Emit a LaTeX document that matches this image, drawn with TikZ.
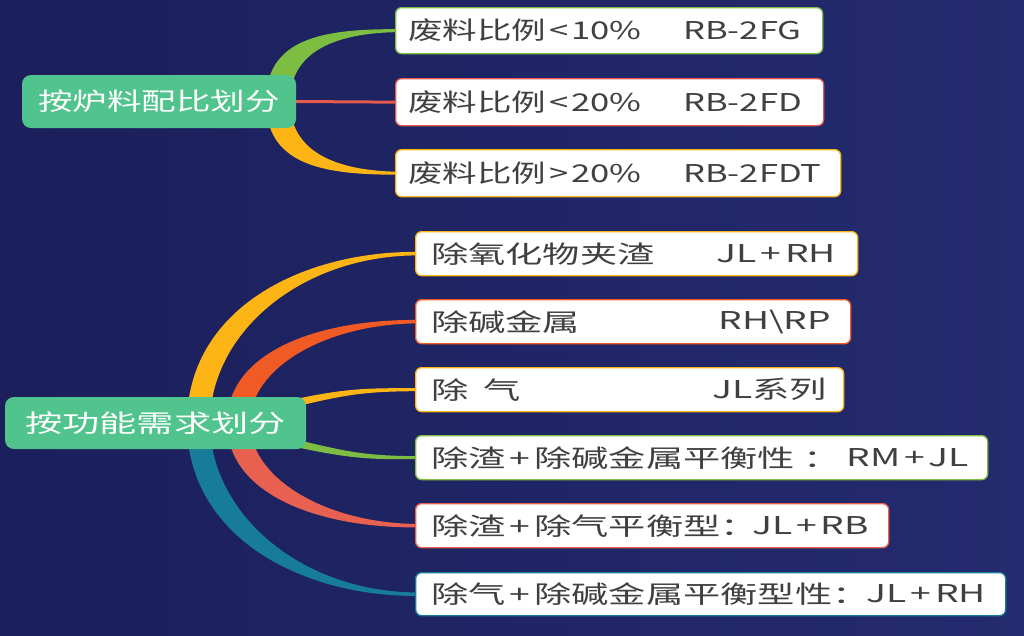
\documentclass[tikz,border=0pt]{standalone}
\usepackage{fontspec}
\newfontfamily\fa[FakeStretch=1.41]{Noto Sans CJK SC}
\newfontfamily\fb[FakeStretch=1.52]{Noto Sans CJK SC}
\usetikzlibrary{calc}
\pgfdeclarelayer{back}
\pgfdeclarelayer{conn}
\pgfsetlayers{back,conn,main}
\definecolor{bgl}{HTML}{1B1F5B}
\definecolor{bgr}{HTML}{242B6E}
\definecolor{rootg}{HTML}{50C48C}
\definecolor{cg}{HTML}{7DBE42}
\definecolor{rd}{HTML}{E55A4E}
\definecolor{rd2}{HTML}{E8604F}
\definecolor{yl}{HTML}{FDB515}
\definecolor{og}{HTML}{F05A24}
\definecolor{tl}{HTML}{177C97}
\definecolor{txt}{HTML}{404040}
\newcommand\pls{\hspace{4pt}+\hspace{4pt}}
\newcommand\lts{\hspace{3pt}<\hspace{3pt}}
\newcommand\gts{\hspace{3pt}>\hspace{3pt}}
\tikzset{
  root/.style={fill=rootg, rounded corners=9pt, text=white, inner sep=0pt},
  box/.style={fill=white, draw, line width=1.3pt, rounded corners=6pt, inner sep=0pt, anchor=north west},
  lbla/.style={text=txt, inner sep=0pt, font=\fa\fontsize{24.5}{28}\selectfont},
  lblb/.style={text=txt, inner sep=0pt, font=\fb\fontsize{24.5}{28}\selectfont},
}
\begin{document}
\begin{tikzpicture}[x=1pt,y=-1pt]
\useasboundingbox (0,0) rectangle (1024,635);
\begin{pgfonlayer}{back}
\shade[left color=bgl, right color=bgr] (0,0) rectangle (1024,635);
\end{pgfonlayer}

% roots
\node[root, font=\fa\fontsize{24.5}{28}\selectfont, minimum width=274pt, minimum height=53pt] (r1) at (159,101.5) {按炉料配比划分};
\node[root, font=\fb\fontsize{24.5}{28}\selectfont, minimum width=301pt, minimum height=52pt] (r2) at (155.5,423) {按功能需求划分};

% boxes (group 1)
\node[box, draw=cg, minimum width=427pt, minimum height=46pt] (c1) at (395,7) {};
\node[box, draw=rd, minimum width=428pt, minimum height=47pt] (c2) at (395,78) {};
\node[box, draw=yl, minimum width=445pt, minimum height=47pt] (c3) at (395,149) {};
% boxes (group 2)
\node[box, draw=yl, minimum width=442pt, minimum height=44pt] (d1) at (415,231) {};
\node[box, draw=og, minimum width=435pt, minimum height=44pt] (d2) at (415,299) {};
\node[box, draw=yl, minimum width=428pt, minimum height=44pt] (d3) at (415,367) {};
\node[box, draw=cg, minimum width=572pt, minimum height=44pt] (d4) at (415,435) {};
\node[box, draw=rd2, minimum width=473pt, minimum height=44pt] (d5) at (415,503) {};
\node[box, draw=tl, minimum width=590pt, minimum height=43pt] (d6) at (415,572) {};

\begin{pgfonlayer}{conn}
% connectors group 1
\fill[cg] ($(r1.center)+(107,0)$) .. controls ($(r1.center)+(107,-62)$) and ($(c1.west)+(-75,-1.5)$) .. ($(c1.west)+(0,-1.5)$)
  -- ($(c1.west)+(0,1.5)$) .. controls ($(c1.west)+(-60,3)$) and ($(r1.center)+(131,-50)$) .. ($(r1.center)+(131,0)$) -- cycle;
\fill[yl] ($(r1.center)+(107,0)$) .. controls ($(r1.center)+(107,62)$) and ($(c3.west)+(-75,1.5)$) .. ($(c3.west)+(0,1.5)$)
  -- ($(c3.west)+(0,-1.5)$) .. controls ($(c3.west)+(-60,-3)$) and ($(r1.center)+(131,50)$) .. ($(r1.center)+(131,0)$) -- cycle;
\draw[rd, line width=3pt] (r1.east) -- (c2.west);

% connectors group 2
\fill[yl] ($(r2.center)+(31.5,0)$) .. controls ($(r2.center)+(31.5,-113)$) and ($(d1.west)+(-115,-1.75)$) .. ($(d1.west)+(0,-1.75)$)
  -- ($(d1.west)+(0,1.75)$) .. controls ($(d1.west)+(-115,3)$) and ($(r2.center)+(54.5,-90)$) .. ($(r2.center)+(54.5,0)$) -- cycle;
\fill[og] ($(r2.center)+(71.5,0)$) .. controls ($(r2.center)+(71.5,-70)$) and ($(d2.west)+(-100,-1.75)$) .. ($(d2.west)+(0,-1.75)$)
  -- ($(d2.west)+(0,1.75)$) .. controls ($(d2.west)+(-90,3)$) and ($(r2.center)+(94.5,-55)$) .. ($(r2.center)+(94.5,0)$) -- cycle;
\fill[yl] ($(r2.east)+(-20,-22)$) .. controls ($(r2.east)+(40,-35)$) and ($(d3.west)+(-50,-1.5)$) .. ($(d3.west)+(0,-1.5)$)
  -- ($(d3.west)+(0,1.5)$) .. controls ($(d3.west)+(-50,2)$) and ($(r2.east)+(40,-29)$) .. ($(r2.east)+(-20,-14)$) -- cycle;
\fill[cg] ($(r2.east)+(-20,14)$) .. controls ($(r2.east)+(40,29)$) and ($(d4.west)+(-50,-2)$) .. ($(d4.west)+(0,-1.5)$)
  -- ($(d4.west)+(0,1.5)$) .. controls ($(d4.west)+(-50,2)$) and ($(r2.east)+(40,35)$) .. ($(r2.east)+(-20,22)$) -- cycle;
\fill[rd2] ($(r2.center)+(71.5,0)$) .. controls ($(r2.center)+(71.5,70)$) and ($(d5.west)+(-100,1.75)$) .. ($(d5.west)+(0,1.75)$)
  -- ($(d5.west)+(0,-1.75)$) .. controls ($(d5.west)+(-90,-3)$) and ($(r2.center)+(94.5,55)$) .. ($(r2.center)+(94.5,0)$) -- cycle;
\fill[tl] ($(r2.center)+(31.5,0)$) .. controls ($(r2.center)+(31.5,113)$) and ($(d6.west)+(-115,1.75)$) .. ($(d6.west)+(0,1.75)$)
  -- ($(d6.west)+(0,-1.75)$) .. controls ($(d6.west)+(-115,-3)$) and ($(r2.center)+(54.5,90)$) .. ($(r2.center)+(54.5,0)$) -- cycle;
\end{pgfonlayer}

% labels group 1
\node[lbla, anchor=west] (c1a) at ([xshift=13pt]c1.west) {废料比例\lts 10\%};
\node[lbla, anchor=west] (c1b) at ([xshift=288pt]c1.west) {RB-2FG};
\node[lbla, anchor=west] (c2a) at ([xshift=13pt]c2.west) {废料比例\lts 20\%};
\node[lbla, anchor=west] (c2b) at ([xshift=288pt]c2.west) {RB-2FD};
\node[lbla, anchor=west] (c3a) at ([xshift=13pt]c3.west) {废料比例\gts 20\%};
\node[lbla, anchor=west] (c3b) at ([xshift=288pt]c3.west) {RB-2FDT};

% labels group 2
\node[lblb, anchor=west] (d1a) at ([xshift=16pt]d1.west) {除氧化物夹渣};
\node[lblb, anchor=east] (d1b) at ([xshift=-22pt]d1.east) {JL\pls RH};
\node[lblb, anchor=west] (d2a) at ([xshift=16pt]d2.west) {除碱金属};
\node[lblb, anchor=east] (d2b) at ([xshift=-20pt]d2.east) {RH\textbackslash RP};
\node[lblb, anchor=west] (d3a) at ([xshift=16pt]d3.west) {除\hspace{15pt}气};
\node[lblb, anchor=east] (d3b) at ([xshift=-17pt]d3.east) {JL系列};
\node[lblb, anchor=west] (d4a) at ([xshift=16pt]d4.west) {除渣\pls 除碱金属平衡性 ：};
\node[lblb, anchor=east] (d4b) at ([xshift=-19pt]d4.east) {RM\pls JL};
\node[lblb, anchor=west] (d5a) at ([xshift=16pt]d5.west) {除渣\pls 除气平衡型：};
\node[lblb, anchor=east] (d5b) at ([xshift=-20pt]d5.east) {JL\pls RB};
\node[lblb, anchor=west] (d6a) at ([xshift=16pt]d6.west) {除气\pls 除碱金属平衡型性：};
\node[lblb, anchor=east] (d6b) at ([xshift=-20pt]d6.east) {JL\pls RH};
\end{tikzpicture}
\end{document}
